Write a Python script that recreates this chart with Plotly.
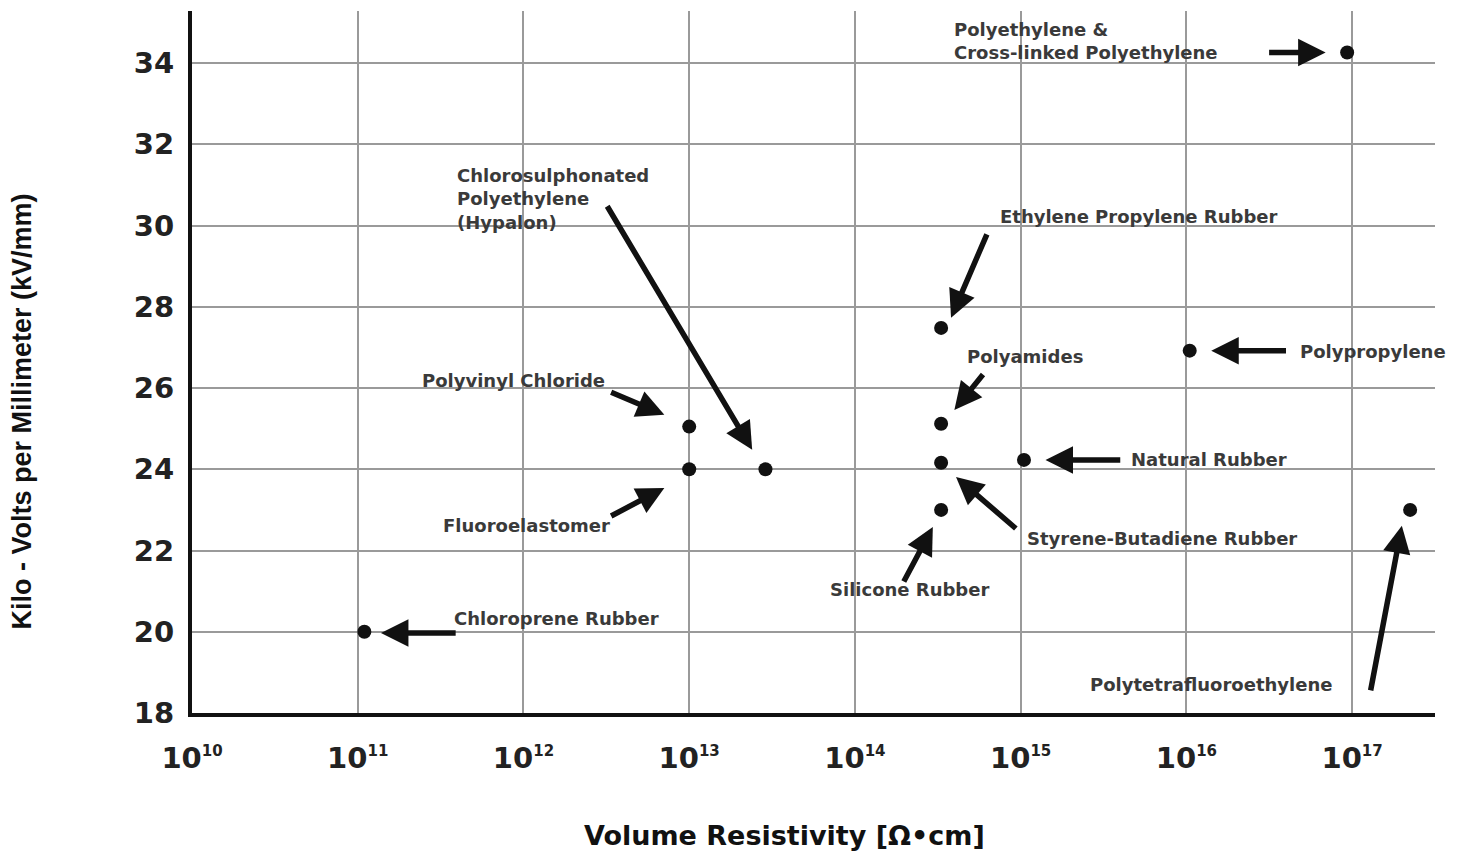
import plotly.graph_objects as go

# ---- data (log10 of volume resistivity, kV/mm) ----
materials = ["Chloroprene Rubber", "Polyvinyl Chloride", "Fluoroelastomer",
             "Chlorosulphonated Polyethylene (Hypalon)", "Ethylene Propylene Rubber",
             "Polyamides", "Styrene-Butadiene Rubber", "Silicone Rubber",
             "Natural Rubber", "Polypropylene",
             "Polyethylene & Cross-linked Polyethylene", "Polytetrafluoroethylene"]
log_resistivity = [11.04, 13.0, 13.0, 13.46, 14.52, 14.52, 14.52, 14.52, 15.02, 16.02, 16.97, 17.35]
kv_per_mm = [20.0, 25.05, 24.0, 24.0, 27.48, 25.12, 24.16, 23.0, 24.23, 26.92, 34.26, 23.0]
resistivity = [10 ** v for v in log_resistivity]

# ---- tick labels ----
x_exponents = [10, 11, 12, 13, 14, 15, 16, 17]
y_ticks = [18, 20, 22, 24, 26, 28, 30, 32, 34]

# ---- label texts and their anchor positions (log10 x, y) ----
label_texts = ["Polyethylene &<br>Cross-linked Polyethylene",
               "Chlorosulphonated<br>Polyethylene<br>(Hypalon)",
               "Ethylene Propylene Rubber", "Polyamides", "Polypropylene",
               "Polyvinyl Chloride", "Natural Rubber", "Fluoroelastomer",
               "Styrene-Butadiene Rubber", "Silicone Rubber",
               "Chloroprene Rubber", "Polytetrafluoroethylene"]
label_x = [14.585, 11.585, 14.862, 14.663, 16.672, 11.374, 15.653, 11.5, 15.025, 13.836, 11.567, 15.405]
label_y = [34.55, 30.66, 30.22, 26.77, 26.89, 26.18, 24.23, 22.61, 22.29, 21.03, 20.32, 18.69]

# ---- arrows: tail -> head (log10 x, y) ----
arrow_tail_x = [16.49, 16.61, 15.61, 11.60, 14.80, 14.78, 14.98, 14.29, 17.11, 12.50, 12.52, 12.52]
arrow_tail_y = [34.26, 26.92, 24.23, 19.97, 29.82, 26.37, 22.51, 21.20, 18.52, 30.51, 25.91, 22.83]
arrow_head_x = [16.84, 16.15, 15.15, 11.14, 14.58, 14.60, 14.61, 14.47, 17.30, 13.38, 12.85, 12.85]
arrow_head_y = [34.26, 26.92, 24.23, 19.97, 27.73, 25.46, 23.81, 22.58, 22.61, 24.48, 25.34, 23.54]

fig = go.Figure()
fig.add_trace(go.Scatter(
    x=resistivity, y=kv_per_mm, mode="markers", text=materials,
    marker=dict(size=14, color="#111111"), showlegend=False,
))

annotations = []
for tx, ty, hx, hy in zip(arrow_tail_x, arrow_tail_y, arrow_head_x, arrow_head_y):
    annotations.append(dict(
        x=hx, y=hy, ax=tx, ay=ty, xref="x", yref="y", axref="x", ayref="y",
        text="", showarrow=True, arrowhead=2, arrowsize=1.0, arrowwidth=5.5,
        arrowcolor="#111111", standoff=0, startstandoff=0,
    ))
for t, lx, ly in zip(label_texts, label_x, label_y):
    annotations.append(dict(
        x=lx, y=ly, xref="x", yref="y", text=t, showarrow=False,
        xanchor="left", yanchor="middle", align="left",
        font=dict(family="DejaVu Sans", size=18, color="#3a3a3a", weight="bold"),
    ))
# axis titles
annotations.append(dict(
    x=0.477, y=-0.174, xref="paper", yref="paper", text="<b>Volume Resistivity [Ω•cm]</b>",
    showarrow=False, xanchor="center", yanchor="middle",
    font=dict(family="DejaVu Sans", size=27, color="#111111"),
))
annotations.append(dict(
    x=-0.137, y=0.429, xref="paper", yref="paper",
    text="<b>Kilo - Volts per Millimeter (kV/mm)</b>", textangle=-90,
    showarrow=False, xanchor="center", yanchor="middle",
    font=dict(family="Liberation Sans", size=27, color="#111111"),
))

fig.update_layout(
    width=1464, height=855,
    margin=dict(l=192, r=29, t=11, b=142),
    paper_bgcolor="white", plot_bgcolor="white",
    annotations=annotations,
    xaxis=dict(
        type="log", range=[10, 17.5],
        tickvals=[10 ** e for e in x_exponents],
        ticktext=[f"10<sup><span style='font-size:15px'>{e}</span></sup>" for e in x_exponents],
        tickfont=dict(family="DejaVu Sans", size=29, color="#222222", weight="bold"),
        ticks="outside", ticklen=16, tickcolor="rgba(0,0,0,0)",
        showgrid=True, gridcolor="#9a9a9a", gridwidth=1.5,
        showline=True, linecolor="#111111", linewidth=4,
        zeroline=False,
    ),
    yaxis=dict(
        range=[18, 35.28],
        tickvals=y_ticks,
        tickfont=dict(family="DejaVu Sans", size=29, color="#222222", weight="bold"),
        ticks="outside", ticklen=8, tickcolor="rgba(0,0,0,0)",
        showgrid=True, gridcolor="#9a9a9a", gridwidth=1.5,
        showline=True, linecolor="#111111", linewidth=4,
        zeroline=False,
    ),
)

fig.write_html("out.html")
